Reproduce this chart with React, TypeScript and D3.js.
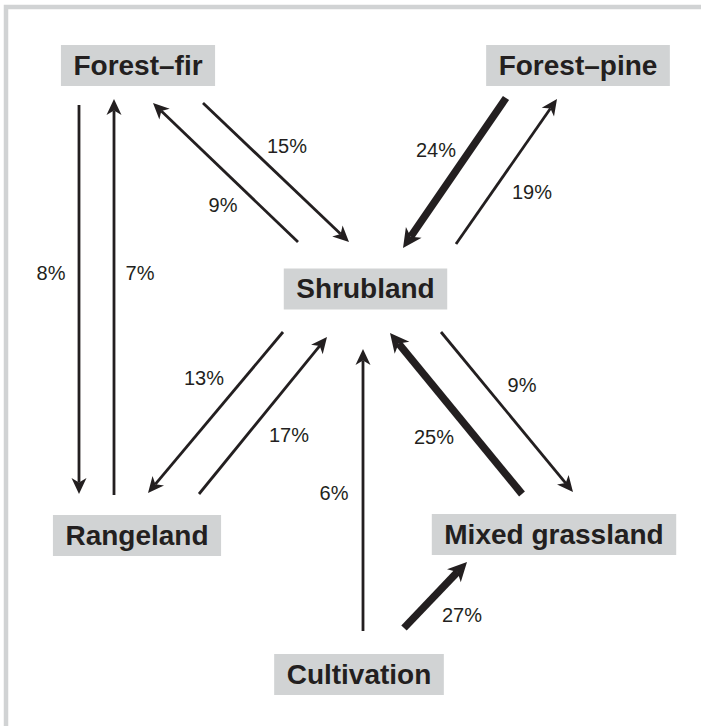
import { useEffect, useRef } from 'react';
import * as d3 from 'd3';

// land-cover classes and the transitions between them (% of area)
const nodeNames = ['Forest–fir', 'Forest–pine', 'Shrubland', 'Rangeland', 'Mixed grassland', 'Cultivation'];
const fromNodes = ['Forest–fir', 'Rangeland', 'Forest–fir', 'Shrubland', 'Forest–pine', 'Shrubland', 'Shrubland', 'Rangeland', 'Shrubland', 'Mixed grassland', 'Cultivation', 'Cultivation'];
const toNodes = ['Rangeland', 'Forest–fir', 'Shrubland', 'Forest–fir', 'Shrubland', 'Forest–pine', 'Rangeland', 'Shrubland', 'Mixed grassland', 'Shrubland', 'Shrubland', 'Mixed grassland'];
const percents = [8, 7, 15, 9, 24, 19, 13, 17, 9, 25, 6, 27];

// diagram layout (pixels)
const nodeCenters: Record<string, [number, number]> = {
  'Forest–fir': [138, 65.5],
  'Forest–pine': [578, 65.5],
  Shrubland: [365.5, 289],
  Rangeland: [137, 535.5],
  'Mixed grassland': [554, 534.5],
  Cultivation: [359, 674.5],
};
// [x1, y1, x2, y2, labelX, labelY] per transition, same order as above
const edgeLayout = [
  [79, 105, 79, 494, 51, 273],
  [114, 495, 114, 99, 140, 273],
  [203, 103, 349, 242, 287, 146],
  [298, 242, 153, 103, 223, 205],
  [506, 98, 403, 248, 436, 150],
  [456, 244, 557, 99, 532, 192],
  [283, 332, 148, 493, 204, 378],
  [199, 494, 327, 337, 289, 435],
  [441, 332, 573, 492, 522, 385],
  [522, 494, 390, 333, 434, 437],
  [363, 631, 363, 349, 334, 493],
  [404, 628, 467, 562, 462, 615],
];

const W = 701;
const H = 726;
const ink = '#231f20';
const boxFill = '#d1d3d4';

export default function App() {
  const ref = useRef<SVGSVGElement>(null);

  useEffect(() => {
    if (!ref.current) return;
    const svg = d3.select(ref.current);
    svg.selectAll('*').remove();

    // frame (top + left only)
    svg.append('path').attr('d', `M6,${H} V7 H${W}`).attr('fill', 'none').attr('stroke', boxFill).attr('stroke-width', 4.5);

    const strokeW = d3.scaleThreshold<number, number>().domain([20]).range([2.8, 7.5]);
    const headLen = d3.scaleThreshold<number, number>().domain([20]).range([16, 19]);
    const headHalf = d3.scaleThreshold<number, number>().domain([20]).range([7.5, 9.5]);
    const line = d3.line();

    const edges = percents.map((p, i) => ({ p, from: fromNodes[i], to: toNodes[i], g: edgeLayout[i] }));

    const eg = svg.append('g');
    edges.forEach((e) => {
      const [x1, y1, x2, y2, lx, ly] = e.g;
      const dx = x2 - x1, dy = y2 - y1;
      const len = Math.hypot(dx, dy);
      const ux = dx / len, uy = dy / len;
      const nx = -uy, ny = ux;
      const L = headLen(e.p), Wh = headHalf(e.p);
      const bx = x2 - L * ux, by = y2 - L * uy;
      const notchX = x2 - L * 0.72 * ux, notchY = y2 - L * 0.72 * uy;

      eg.append('path')
        .attr('d', line([[x1, y1], [notchX, notchY]]))
        .attr('stroke', ink)
        .attr('stroke-width', strokeW(e.p))
        .attr('fill', 'none');
      eg.append('path')
        .attr('d', line([[x2, y2], [bx + Wh * nx, by + Wh * ny], [notchX, notchY], [bx - Wh * nx, by - Wh * ny]]) + 'Z')
        .attr('fill', ink);
      eg.append('text')
        .attr('x', lx)
        .attr('y', ly)
        .attr('dy', '0.35em')
        .attr('text-anchor', 'middle')
        .attr('font-family', 'Liberation Sans, Arial, sans-serif')
        .attr('font-size', 20)
        .attr('fill', ink)
        .text(`${e.p}%`);
    });

    const ng = svg.append('g');
    nodeNames.forEach((name) => {
      const [cx, cy] = nodeCenters[name];
      const g = ng.append('g');
      const rect = g.append('rect').attr('fill', boxFill);
      const t = g.append('text')
        .attr('x', cx)
        .attr('y', cy + 9)
        .attr('text-anchor', 'middle')
        .attr('font-family', 'Liberation Sans, Arial, sans-serif')
        .attr('font-weight', 700)
        .attr('font-size', 28)
        .attr('fill', ink)
        .text(name);
      const tw = (t.node() as SVGTextElement).getComputedTextLength();
      const bw = tw + 25;
      rect.attr('x', cx - bw / 2).attr('y', cy - 20.5).attr('width', bw).attr('height', 41);
    });
  }, []);

  return <svg ref={ref} width={W} height={H} style={{ position: 'absolute', left: 0, top: 0, background: '#fff' }} />;
}
